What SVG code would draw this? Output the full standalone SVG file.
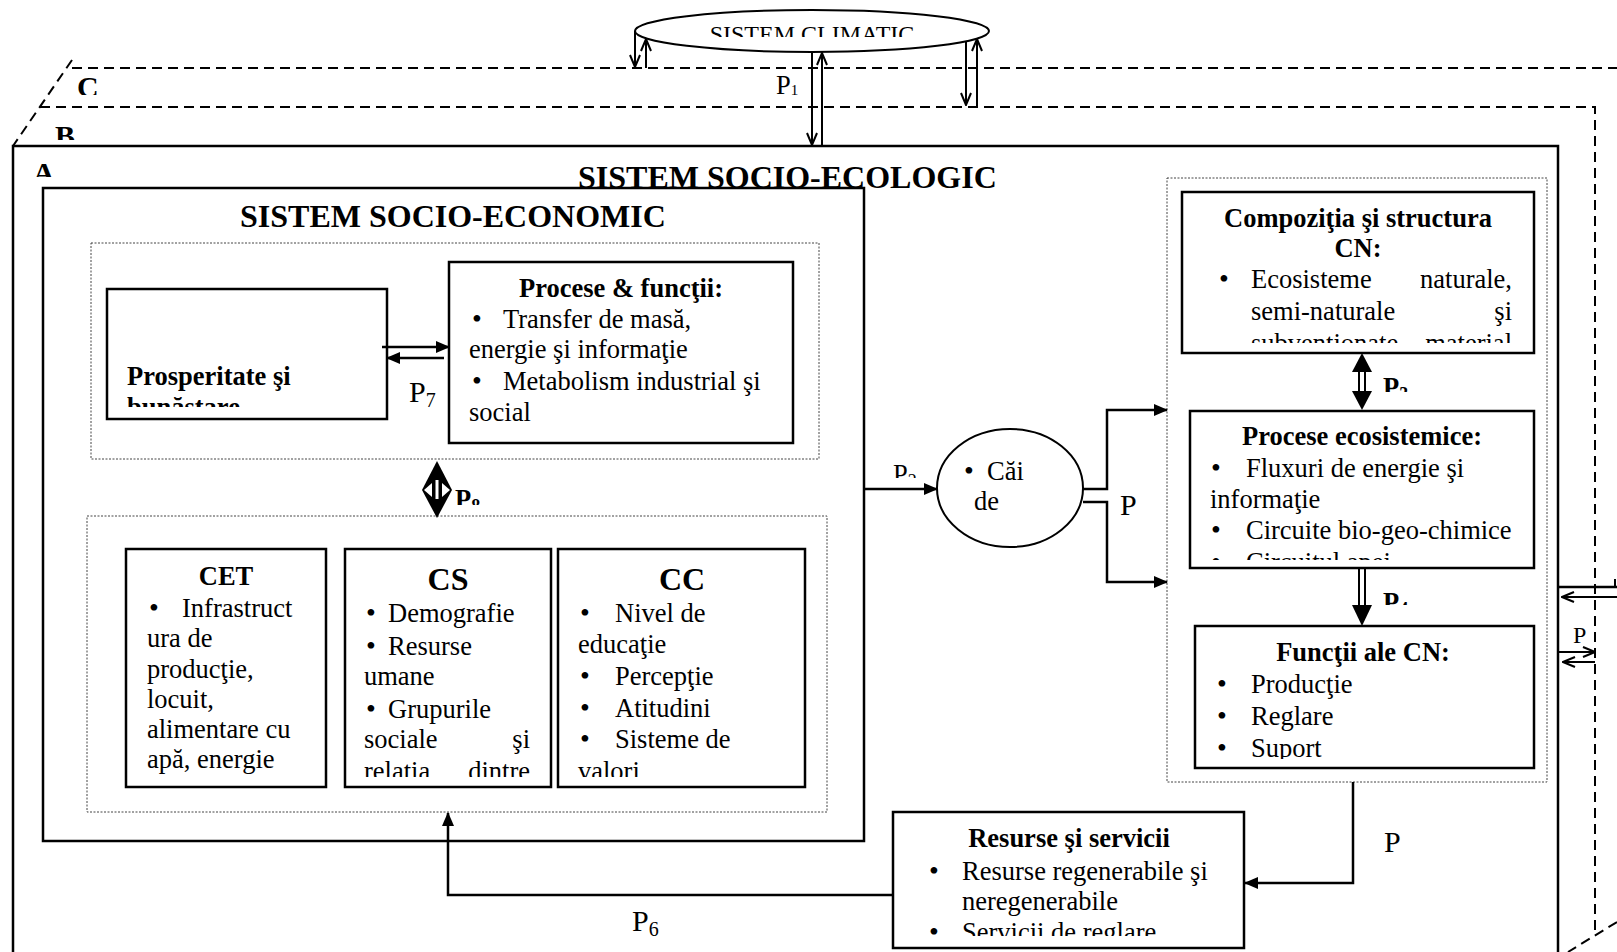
<svg xmlns="http://www.w3.org/2000/svg" width="1617" height="952" viewBox="0 0 1617 952">
<defs>
<style>
.box{fill:#fff;stroke:#000;stroke-width:2.5}
.dot{fill:none;stroke:#444;stroke-width:1;stroke-dasharray:2 1.5}
.dash{fill:none;stroke:#000;stroke-width:2;stroke-dasharray:10 6}
.ln{fill:none;stroke:#000;stroke-width:2.5}
.lt{fill:none;stroke:#000;stroke-width:2}
text{font-family:"Liberation Serif","Times New Roman",serif;font-size:26.5px;fill:#000}
.b{font-weight:bold}
.h{font-size:32px;font-weight:bold}
.mid{text-anchor:middle}
.end{text-anchor:end}
.sub{font-size:18px}
.s15{font-size:15px}
.f24{font-size:24px}
.f30{font-size:30px}
.sub20{font-size:20px}
.bu{font-size:28px}
</style>
<marker id="ah" viewBox="0 0 14 12" refX="13" refY="6" markerWidth="14" markerHeight="12" markerUnits="userSpaceOnUse" orient="auto"><path d="M0,0 L14,6 L0,12 z" fill="#000"/></marker>
<marker id="ao" viewBox="0 0 14 12" refX="13" refY="6" markerWidth="14" markerHeight="12" markerUnits="userSpaceOnUse" orient="auto"><path d="M1,1 L13,6 L1,11" fill="none" stroke="#000" stroke-width="2"/></marker>
<clipPath id="cClim" clipPathUnits="userSpaceOnUse"><rect x="640" y="0" width="350" height="37"/></clipPath>
<clipPath id="cC" clipPathUnits="userSpaceOnUse"><rect x="70" y="70" width="60" height="25"/></clipPath>
<clipPath id="cB" clipPathUnits="userSpaceOnUse"><rect x="45" y="110" width="60" height="30"/></clipPath>
<clipPath id="cA" clipPathUnits="userSpaceOnUse"><rect x="25" y="150" width="60" height="27"/></clipPath>
<clipPath id="cPros" clipPathUnits="userSpaceOnUse"><rect x="107" y="289" width="280" height="118"/></clipPath>
<clipPath id="cP8" clipPathUnits="userSpaceOnUse"><rect x="450" y="470" width="60" height="35"/></clipPath>
<clipPath id="cP2" clipPathUnits="userSpaceOnUse"><rect x="885" y="450" width="50" height="28"/></clipPath>
<clipPath id="cComp" clipPathUnits="userSpaceOnUse"><rect x="1182" y="192" width="352" height="151"/></clipPath>
<clipPath id="cProc" clipPathUnits="userSpaceOnUse"><rect x="1190" y="411" width="344" height="149"/></clipPath>
<clipPath id="cFunc" clipPathUnits="userSpaceOnUse"><rect x="1195" y="626" width="339" height="133"/></clipPath>
<clipPath id="cCS" clipPathUnits="userSpaceOnUse"><rect x="345" y="549" width="206" height="228"/></clipPath>
<clipPath id="cCC" clipPathUnits="userSpaceOnUse"><rect x="558" y="549" width="247" height="228"/></clipPath>
<clipPath id="cRes" clipPathUnits="userSpaceOnUse"><rect x="893" y="812" width="351" height="124"/></clipPath>
<clipPath id="cP3" clipPathUnits="userSpaceOnUse"><rect x="1375" y="370" width="60" height="22"/></clipPath>
<clipPath id="cP4" clipPathUnits="userSpaceOnUse"><rect x="1375" y="585" width="60" height="20"/></clipPath>
</defs>
<rect x="0" y="0" width="1617" height="952" fill="#fff"/>

<g id="system-A">
<rect x="13" y="146" width="1545" height="900" fill="#fff" stroke="#000" stroke-width="2.5"/>
<text class="b f30" x="33" y="183" clip-path="url(#cA)">A</text>
<text class="h" x="578" y="188">SISTEM SOCIO-ECOLOGIC</text>
</g>

<g id="layers-BC">
<path class="dash" d="M72,60 L13,146"/>
<path class="dash" d="M72,68 H1617"/>
<path class="dash" d="M40,107 H1595 V935"/>
<path class="dash" d="M1617,922 L1568,952"/>
<text class="b f30" x="77" y="97" clip-path="url(#cC)">C</text>
<text class="b f30" x="55" y="146" clip-path="url(#cB)">B</text>
</g>

<g id="climatic">
<ellipse cx="812" cy="31" rx="177" ry="21" fill="#fff" stroke="#000" stroke-width="2"/>
<text class="mid f24" x="812" y="42" clip-path="url(#cClim)">SISTEM CLIMATIC</text>
</g>

<g id="socio-economic">
<rect class="box" x="43" y="188" width="821" height="653" fill="none"/>
<text class="h" x="240" y="227">SISTEM SOCIO-ECONOMIC</text>
<rect class="dot" x="91" y="243" width="728" height="216"/>
<rect class="dot" x="87" y="516" width="740" height="296"/>
</g>

<g id="prosperitate">
<rect class="box" x="107" y="289" width="280" height="130"/>
<g clip-path="url(#cPros)">
<text class="b" x="127" y="385">Prosperitate şi</text>
<text class="b" x="127" y="416">bunăstare</text>
</g>
</g>

<g id="procese-functii">
<rect class="box" x="449" y="262" width="344" height="181"/>
<text class="b mid" x="621" y="297">Procese &amp; funcţii:</text>
<text x="472" y="328"><tspan class="bu">•</tspan><tspan x="503">Transfer de masă,</tspan></text>
<text x="469" y="358">energie şi informaţie</text>
<text x="472" y="390"><tspan class="bu">•</tspan><tspan x="503">Metabolism industrial şi</tspan></text>
<text x="469" y="421">social</text>
</g>

<g id="CET">
<rect class="box" x="126" y="549" width="200" height="238"/>
<text class="b mid" x="226" y="585">CET</text>
<text x="149" y="617"><tspan class="bu">•</tspan><tspan x="182">Infrastruct</tspan></text>
<text x="147" y="647">ura de</text>
<text x="147" y="678">producţie,</text>
<text x="147" y="708">locuit,</text>
<text x="147" y="738">alimentare cu</text>
<text x="147" y="768">apă, energie</text>
</g>

<g id="CS">
<rect class="box" x="345" y="549" width="206" height="238"/>
<text class="h mid" x="448" y="590">CS</text>
<g clip-path="url(#cCS)">
<text x="366" y="622"><tspan class="bu">•</tspan><tspan x="388">Demografie</tspan></text>
<text x="366" y="655"><tspan class="bu">•</tspan><tspan x="388">Resurse</tspan></text>
<text x="364" y="685">umane</text>
<text x="366" y="718"><tspan class="bu">•</tspan><tspan x="388">Grupurile</tspan></text>
<text x="364" y="748">sociale</text><text class="end" x="530" y="748">şi</text>
<text x="364" y="780">relaţia</text><text class="end" x="530" y="780">dintre</text>
</g>
</g>

<g id="CC">
<rect class="box" x="558" y="549" width="247" height="238"/>
<text class="h mid" x="682" y="590">CC</text>
<g clip-path="url(#cCC)">
<text x="580" y="622"><tspan class="bu">•</tspan><tspan x="615">Nivel de</tspan></text>
<text x="578" y="653">educaţie</text>
<text x="580" y="685"><tspan class="bu">•</tspan><tspan x="615">Percepţie</tspan></text>
<text x="580" y="717"><tspan class="bu">•</tspan><tspan x="615">Atitudini</tspan></text>
<text x="580" y="748"><tspan class="bu">•</tspan><tspan x="615">Sisteme de</tspan></text>
<text x="578" y="780">valori</text>
</g>
</g>

<g id="cai-de-actiune">
<ellipse cx="1010" cy="488" rx="73" ry="59" fill="#fff" stroke="#000" stroke-width="2"/>
<text x="964" y="480"><tspan class="bu">•</tspan><tspan x="987">Căi</tspan></text>
<text x="974" y="510">de</text>
</g>

<g id="capital-natural">
<rect class="dot" x="1167" y="178" width="380" height="604"/>
</g>

<g id="compozitia">
<rect class="box" x="1182" y="192" width="352" height="161"/>
<text class="b mid" x="1358" y="227">Compoziţia şi structura</text>
<text class="b mid" x="1358" y="257">CN:</text>
<g clip-path="url(#cComp)">
<text x="1219" y="288"><tspan class="bu">•</tspan><tspan x="1251">Ecosisteme</tspan></text><text class="end" x="1512" y="288">naturale,</text>
<text x="1251" y="320">semi-naturale</text><text class="end" x="1512" y="320">şi</text>
<text x="1251" y="352">subvenţionate</text><text class="end" x="1512" y="352">material</text>
</g>
</g>

<g id="procese-ecosistemice">
<rect class="box" x="1190" y="411" width="344" height="157"/>
<text class="b mid" x="1362" y="445">Procese ecosistemice:</text>
<g clip-path="url(#cProc)">
<text x="1211" y="477"><tspan class="bu">•</tspan><tspan x="1246">Fluxuri de energie şi</tspan></text>
<text x="1210" y="508">informaţie</text>
<text x="1211" y="539"><tspan class="bu">•</tspan><tspan x="1246">Circuite bio-geo-chimice</tspan></text>
<text x="1211" y="571"><tspan class="bu">•</tspan><tspan x="1246">Circuitul apei</tspan></text>
</g>
</g>

<g id="functii">
<rect class="box" x="1195" y="626" width="339" height="142"/>
<text class="b mid" x="1363" y="661">Funcţii ale CN:</text>
<g clip-path="url(#cFunc)">
<text x="1217" y="693"><tspan class="bu">•</tspan><tspan x="1251">Producţie</tspan></text>
<text x="1217" y="725"><tspan class="bu">•</tspan><tspan x="1251">Reglare</tspan></text>
<text x="1217" y="757"><tspan class="bu">•</tspan><tspan x="1251">Suport</tspan></text>
</g>
</g>

<g id="resurse-servicii">
<rect class="box" x="893" y="812" width="351" height="136"/>
<text class="b mid" x="1069" y="847">Resurse şi servicii</text>
<g clip-path="url(#cRes)">
<text x="929" y="880"><tspan class="bu">•</tspan><tspan x="962">Resurse regenerabile şi</tspan></text>
<text x="962" y="910">neregenerabile</text>
<text x="929" y="941"><tspan class="bu">•</tspan><tspan x="962">Servicii de reglare</tspan></text>
</g>
</g>

<g id="connectors">
<path class="lt" d="M635,31 V67" marker-end="url(#ao)"/>
<path class="lt" d="M646,68 V39" marker-end="url(#ao)"/>
<path class="lt" d="M812,52 V145" marker-end="url(#ao)"/>
<path class="lt" d="M822,145 V53" marker-end="url(#ao)"/>
<path class="lt" d="M966,41 V105" marker-end="url(#ao)"/>
<path class="lt" d="M977,107 V39" marker-end="url(#ao)"/>
<text x="776" y="94">P<tspan class="s15" dy="1">1</tspan></text>

<path class="ln" d="M382,347 H449" marker-end="url(#ah)"/>
<path class="ln" d="M444,358 H387" marker-end="url(#ah)"/>
<text class="f30" x="409" y="402">P<tspan class="sub20" dy="5">7</tspan></text>

<polygon points="437,461 452,490 437,518 422,490" fill="#000"/>
<polygon points="432,483 432,497 424,490" fill="#fff"/>
<polygon points="442,483 442,497 450,490" fill="#fff"/>
<rect x="435.5" y="480" width="3" height="19" fill="#fff"/>
<text class="b" x="455" y="508" clip-path="url(#cP8)">P<tspan class="sub" dy="4">8</tspan></text>

<path class="ln" d="M864,489 H937" stroke-width="3" marker-end="url(#ah)"/>
<text x="893" y="483" clip-path="url(#cP2)">P<tspan class="sub" dy="4">2</tspan></text>

<path class="ln" d="M1083,489 H1107 V410 H1167" marker-end="url(#ah)"/>
<path class="ln" d="M1083,502 H1107 V582 H1167" marker-end="url(#ah)"/>
<text class="f30" x="1120" y="515">P</text>

<path class="lt" d="M1359,369 V395 M1365,369 V395"/>
<polygon points="1362,353 1352,372 1372,372" fill="#000"/>
<polygon points="1362,410 1352,391 1372,391" fill="#000"/>
<text class="b" x="1383" y="396" clip-path="url(#cP3)">P<tspan class="sub" dy="4">3</tspan></text>

<path class="lt" d="M1359,568 V608 M1365,568 V608"/>
<polygon points="1352,605 1372,605 1362,626" fill="#000"/>
<text class="b" x="1383" y="611" clip-path="url(#cP4)">P<tspan class="sub" dy="4">4</tspan></text>

<path class="ln" d="M1353,782 V883 H1245" marker-end="url(#ah)"/>
<text class="f30" x="1384" y="852">P</text>

<path class="ln" d="M893,895 H448 V813" marker-end="url(#ah)"/>
<text class="f30" x="632" y="931">P<tspan class="sub20" dy="5">6</tspan></text>

<path class="ln" d="M1558,587 H1617"/>
<path class="lt" d="M1615,579 V587"/>
<path class="lt" d="M1617,597 H1562" marker-end="url(#ao)"/>
<path class="lt" d="M1558,652 H1595" marker-end="url(#ao)"/>
<path class="lt" d="M1595,662 H1563" marker-end="url(#ao)"/>
<text class="f24" x="1573" y="643">P</text>
</g>
</svg>
